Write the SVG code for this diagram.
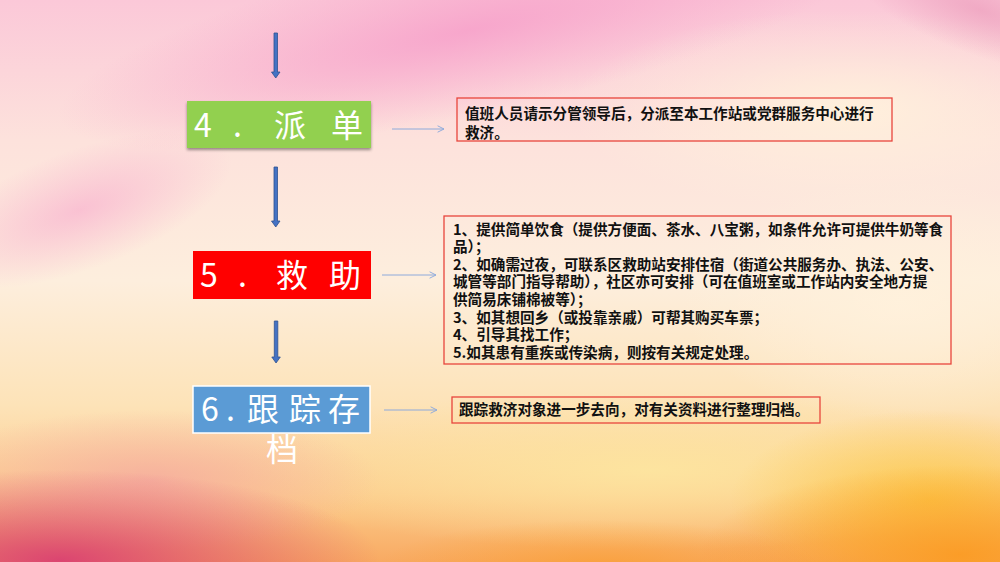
<svg xmlns="http://www.w3.org/2000/svg" width="1000" height="562" viewBox="0 0 1000 562">
  <defs>
    <style>
      .lbl { font-family: "Noto Sans CJK SC", "Noto Sans", sans-serif; font-size: 32px; fill: #ffffff; }
      .txt { font-family: "Noto Sans CJK SC", "Noto Sans", sans-serif; font-size: 14.6px; font-weight: bold; fill: #111111; }
      .frame { fill: none; stroke: #e8453c; stroke-width: 1.3; }
      .flow { fill: #4472c4; stroke: #2f528f; stroke-width: 0.8; }
      .link { fill: none; stroke: #8eaadb; stroke-width: 1; marker-end: url(#open); }
    </style>
    <marker id="open" viewBox="0 0 10 10" refX="9" refY="5" markerWidth="8" markerHeight="8" markerUnits="userSpaceOnUse" orient="auto">
      <path d="M1,1 L9,5 L1,9" fill="none" stroke="#8eaadb" stroke-width="1.2"/>
    </marker>
    <linearGradient id="base" x1="0" y1="0" x2="0" y2="1">
      <stop offset="0" stop-color="#fbc8d8"/>
      <stop offset="0.25" stop-color="#fde2dc"/>
      <stop offset="0.5" stop-color="#fdeedd"/>
      <stop offset="0.72" stop-color="#fde3b8"/>
      <stop offset="0.88" stop-color="#fccb8c"/>
      <stop offset="1" stop-color="#f8aa62"/>
    </linearGradient>
    <radialGradient id="pinkTop">
      <stop offset="0" stop-color="#f7a4cb" stop-opacity="0.95"/>
      <stop offset="1" stop-color="#f7a4cb" stop-opacity="0"/>
    </radialGradient>
    <radialGradient id="pinkDeep">
      <stop offset="0" stop-color="#e890b4" stop-opacity="0.55"/>
      <stop offset="1" stop-color="#e890b4" stop-opacity="0"/>
    </radialGradient>
    <radialGradient id="cream">
      <stop offset="0" stop-color="#fff1dc" stop-opacity="0.95"/>
      <stop offset="1" stop-color="#fff1dc" stop-opacity="0"/>
    </radialGradient>
    <radialGradient id="yellow">
      <stop offset="0" stop-color="#fde6a0" stop-opacity="0.9"/>
      <stop offset="1" stop-color="#fde6a0" stop-opacity="0"/>
    </radialGradient>
    <radialGradient id="magenta">
      <stop offset="0" stop-color="#d83a72" stop-opacity="0.9"/>
      <stop offset="1" stop-color="#d83a72" stop-opacity="0"/>
    </radialGradient>
    <radialGradient id="orange">
      <stop offset="0" stop-color="#fb9a22" stop-opacity="0.9"/>
      <stop offset="1" stop-color="#fb9a22" stop-opacity="0"/>
    </radialGradient>
    <radialGradient id="gold">
      <stop offset="0" stop-color="#fcc63a" stop-opacity="0.8"/>
      <stop offset="1" stop-color="#fcc63a" stop-opacity="0"/>
    </radialGradient>
    <radialGradient id="salmon">
      <stop offset="0" stop-color="#f5a9a0" stop-opacity="0.8"/>
      <stop offset="1" stop-color="#f5a9a0" stop-opacity="0"/>
    </radialGradient>
    <filter id="shadow" x="-10%" y="-20%" width="120%" height="160%">
      <feDropShadow dx="0" dy="2" stdDeviation="1.5" flood-color="#000000" flood-opacity="0.4"/>
    </filter>
  </defs>

  <g id="background">
    <rect x="0" y="0" width="1000" height="562" fill="url(#base)"/>
    <ellipse cx="470" cy="30" rx="420" ry="85" transform="rotate(-12 470 30)" fill="url(#pinkTop)"/>
    <ellipse cx="80" cy="210" rx="160" ry="60" transform="rotate(-20 80 210)" fill="url(#pinkTop)" opacity="0.6"/>
    <ellipse cx="850" cy="110" rx="280" ry="100" fill="url(#cream)"/>
    <ellipse cx="980" cy="10" rx="140" ry="45" transform="rotate(20 980 10)" fill="url(#pinkDeep)"/>
    <ellipse cx="900" cy="300" rx="220" ry="120" fill="url(#cream)"/>
    <ellipse cx="650" cy="470" rx="420" ry="80" fill="url(#yellow)"/>
    <ellipse cx="150" cy="480" rx="230" ry="70" fill="url(#salmon)"/>
    <ellipse cx="60" cy="560" rx="320" ry="90" fill="url(#magenta)"/>
    <ellipse cx="930" cy="500" rx="200" ry="90" fill="url(#gold)"/>
    <ellipse cx="960" cy="555" rx="260" ry="90" fill="url(#orange)"/>
    <ellipse cx="600" cy="565" rx="220" ry="45" fill="url(#orange)" opacity="0.6"/>
  </g>

  <g id="connectors">
    <path class="flow" d="M274,33 h3.5 v39 h2.5 l-4.25,6 l-4.25,-6 h2.5 z"/>
    <path class="flow" d="M274,167 h3.5 v54 h2.5 l-4.25,6 l-4.25,-6 h2.5 z"/>
    <path class="flow" d="M274.3,321 h3.5 v36 h2.5 l-4.25,6 l-4.25,-6 h2.5 z"/>
    <line class="link" x1="392" y1="129" x2="444" y2="129"/>
    <line class="link" x1="382" y1="275" x2="436" y2="275"/>
    <line class="link" x1="384" y1="410" x2="437" y2="410"/>
  </g>

  <g id="node-dispatch">
    <rect x="187" y="101" width="184" height="47" fill="#92d050" filter="url(#shadow)"/>
    <text class="lbl" y="137"><tspan x="194">4</tspan><tspan x="233">.</tspan><tspan x="274">派</tspan><tspan x="331">单</tspan></text>
  </g>

  <g id="note-dispatch">
    <rect class="frame" x="457" y="98" width="435" height="43"/>
    <text class="txt"><tspan x="465" y="119">值班人员请示分管领导后，分派至本工作站或党群服务中心进行</tspan><tspan x="465" y="138">救济。</tspan></text>
  </g>

  <g id="node-rescue">
    <rect x="193" y="251" width="178" height="48" fill="#ff0000"/>
    <text class="lbl" y="287"><tspan x="200">5</tspan><tspan x="238">.</tspan><tspan x="276">救</tspan><tspan x="329">助</tspan></text>
  </g>

  <g id="note-rescue">
    <rect class="frame" x="444" y="216" width="507" height="148"/>
    <text class="txt">
      <tspan x="453" y="234.5">1、提供简单饮食（提供方便面、茶水、八宝粥，如条件允许可提供牛奶等食</tspan>
      <tspan x="453" y="252.1">品）；</tspan>
      <tspan x="453" y="269.7">2、如确需过夜，可联系区救助站安排住宿（街道公共服务办、执法、公安、</tspan>
      <tspan x="453" y="287.3">城管等部门指导帮助），社区亦可安排（可在值班室或工作站内安全地方提</tspan>
      <tspan x="453" y="304.9">供简易床铺棉被等）；</tspan>
      <tspan x="453" y="322.5">3、如其想回乡（或投靠亲戚）可帮其购买车票；</tspan>
      <tspan x="453" y="340.1">4、引导其找工作；</tspan>
      <tspan x="453" y="357.7">5.如其患有重疾或传染病，则按有关规定处理。</tspan>
    </text>
  </g>

  <g id="node-archive">
    <rect x="193" y="386" width="177" height="47" fill="#5b9bd5" stroke="#ffffff" stroke-width="1.5"/>
    <text class="lbl"><tspan x="201" y="421">6</tspan><tspan x="226" y="421">.</tspan><tspan x="247" y="421">跟</tspan><tspan x="289" y="421">踪</tspan><tspan x="328" y="421">存</tspan><tspan x="266" y="461">档</tspan></text>
  </g>

  <g id="note-archive">
    <rect class="frame" x="452" y="397" width="368" height="26"/>
    <text class="txt" x="459" y="415">跟踪救济对象进一步去向，对有关资料进行整理归档。</text>
  </g>
</svg>
